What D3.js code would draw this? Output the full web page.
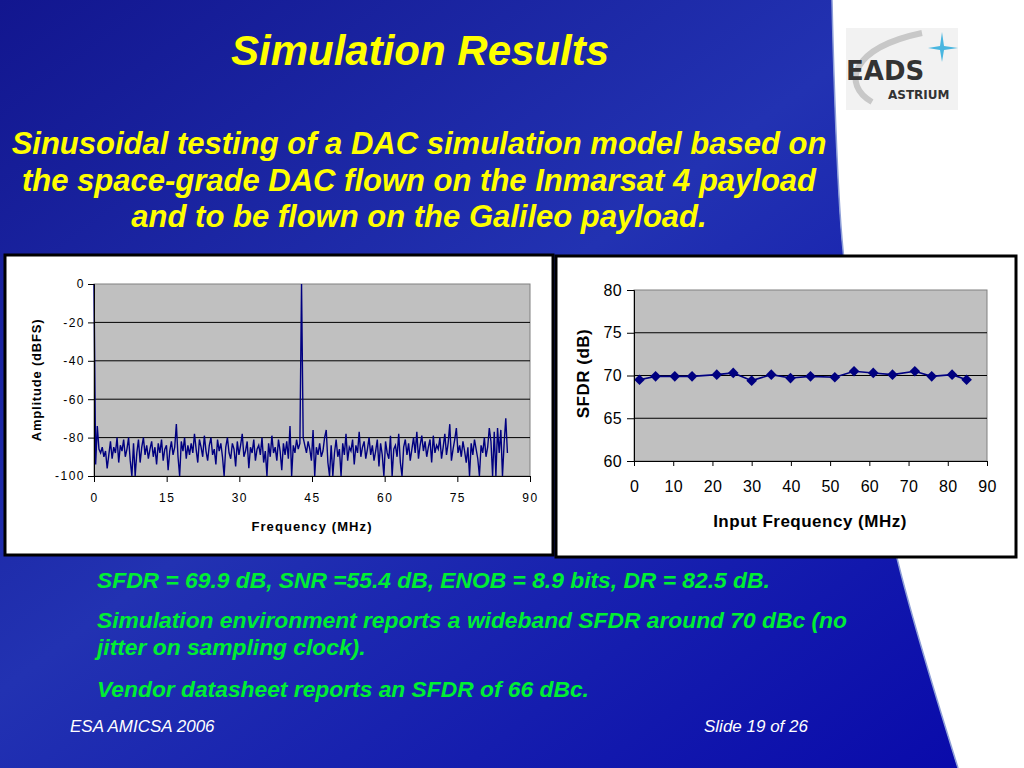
<!DOCTYPE html>
<html>
<head>
<meta charset="utf-8">
<script src="https://cdn.jsdelivr.net/npm/d3@7"></script>
<style>
  html, body { margin: 0; padding: 0; background: #fff; }
  svg { display: block; font-family: "Liberation Sans", Arial, sans-serif; }
</style>
</head>
<body>
<script>
const width = 1024
const height = 768

// spectrum of the DAC output, one value per FFT bin (dBFS)
const binWidth = 0.34
const amplitude = [
  0, -94, -74, -86, -88, -85, -90, -87, -96, -89,
  -82, -91, -85, -88, -80, -93, -84, -87, -81, -90,
  -86, -80, -92, -100, -83, -100, -88, -81, -93, -85,
  -80, -89, -84, -91, -86, -82, -90, -85, -94, -83,
  -88, -81, -92, -86, -84, -97, -87, -82, -89, -85,
  -73, -90, -100, -82, -87, -80, -91, -84, -89, -83,
  -88, -78, -86, -93, -81, -85, -90, -79, -87, -92,
  -84, -80, -89, -86, -94, -81, -87, -83, -90, -100,
  -85, -80, -88, -91, -83, -86, -95, -82, -89, -84,
  -78, -90, -87, -82, -96, -85, -88, -81, -92, -86,
  -84, -89, -80, -93, -87, -100, -83, -90, -79, -88,
  -85, -92, -81, -87, -97, -83, -89, -82, -91, -74,
  -100, -84, -88, -81, -86, -83, 0, -80, -84, -88,
  -82, -86, -92, -76, -100, -85, -89, -83, -90, -87,
  -80, -76, -93, -100, -84, -100, -88, -81, -90, -86,
  -100, -83, -89, -78, -92, -85, -87, -81, -94, -84,
  -88, -77, -90, -85, -82, -91, -86, -80, -89, -84,
  -92, -87, -81, -95, -83, -89, -100, -82, -88, -91,
  -79, -100, -86, -84, -90, -78, -93, -100, -85, -81,
  -89, -83, -92, -86, -80, -88, -77, -91, -84, -79,
  -87, -82, -90, -85, -81, -93, -79, -88, -84, -86,
  -80, -91, -85, -78, -89, -83, -73, -92, -86, -81,
  -75, -88, -84, -90, -82, -87, -93, -85, -100, -83,
  -89, -81, -86, -91, -100, -84, -88, -80, -90, -85,
  -75, -82, -100, -77, -100, -75, -88, -76, -100, -83,
  -70, -88
]

// measured SFDR against input frequency
const inputFreq = [1.4, 5.5, 10.4, 14.8, 21.1, 25.3, 30.0, 35.0, 39.9, 45.0, 51.2, 56.1, 61.0, 65.9, 71.6, 75.9, 81.1, 84.8]
const sfdr = [69.5, 69.9, 69.9, 69.9, 70.1, 70.3, 69.4, 70.1, 69.7, 69.9, 69.8, 70.5, 70.3, 70.1, 70.5, 69.9, 70.1, 69.5]

const freqTicks = [0, 15, 30, 45, 60, 75, 90]
const ampTicks = [0, -20, -40, -60, -80, -100]
const inputTicks = [0, 10, 20, 30, 40, 50, 60, 70, 80, 90]
const sfdrTicks = [60, 65, 70, 75, 80]

const subtitle = [
  'Sinusoidal testing of a DAC simulation model based on',
  'the space-grade DAC flown on the Inmarsat 4 payload',
  'and to be flown on the Galileo payload.'
]
const notes = [
  ['SFDR = 69.9 dB, SNR =55.4 dB, ENOB = 8.9 bits, DR = 82.5 dB.'],
  ['Simulation environment reports a wideband SFDR around 70 dBc (no', 'jitter on sampling clock).'],
  ['Vendor datasheet reports an SFDR of 66 dBc.']
]

const svg = d3.select('body').append('svg')
  .attr('width', width)
  .attr('height', height)

// slide background
const defs = svg.append('defs')
const grad = defs.append('linearGradient').attr('id', 'bg')
  .attr('x1', '0').attr('y1', '0').attr('x2', '1').attr('y2', '1')
grad.append('stop').attr('offset', '0%').attr('stop-color', '#12168f')
grad.append('stop').attr('offset', '45%').attr('stop-color', '#2232b2')
grad.append('stop').attr('offset', '100%').attr('stop-color', '#0808aa')

svg.append('rect').attr('width', width).attr('height', height).attr('fill', 'url(#bg)')

// white wedge on the right
const edge = [[832, 0], [843, 250], [868, 410], [897, 558], [958, 768]]
const wedge = d3.line().curve(d3.curveCatmullRom)
svg.append('path')
  .attr('d', wedge(edge) + 'L1024,768L1024,0Z')
  .attr('fill', '#fff')
svg.append('path')
  .attr('d', wedge(edge))
  .attr('fill', 'none')
  .attr('stroke', '#8fa0d8')
  .attr('stroke-width', 1.5)

// logo
const logo = svg.append('g')
logo.append('rect').attr('x', 846).attr('y', 28).attr('width', 112).attr('height', 82).attr('fill', '#f2f2f2')
logo.append('path')
  .attr('d', 'M872,102 C842,85 850,48 922,33')
  .attr('fill', 'none').attr('stroke', '#c8c8c8').attr('stroke-width', 6)
logo.append('text').attr('x', 846).attr('y', 80)
  .attr('font-size', 26).attr('font-weight', 'bold').attr('fill', '#333')
  .attr('font-family', '"DejaVu Sans", sans-serif').text('EADS')
logo.append('text').attr('x', 888).attr('y', 99)
  .attr('font-size', 12).attr('font-weight', 'bold').attr('fill', '#333')
  .attr('font-family', '"DejaVu Sans", sans-serif').text('ASTRIUM')
logo.append('path')
  .attr('d', 'M942,32 L944,46 L958,48 L944,50 L942,62 L940,50 L928,48 L940,46 Z')
  .attr('fill', '#49b6e0')

// titles
svg.append('text').attr('x', 420).attr('y', 65).attr('text-anchor', 'middle')
  .attr('font-size', 42).attr('font-weight', 'bold').attr('font-style', 'italic')
  .attr('fill', '#ffff00').text('Simulation Results')

svg.append('g').selectAll('text').data(subtitle).join('text')
  .attr('x', 419).attr('y', (d, i) => 154 + i * 36.5)
  .attr('text-anchor', 'middle')
  .attr('font-size', 31).attr('font-weight', 'bold').attr('font-style', 'italic')
  .attr('fill', '#ffff00').text(d => d)

// panels
svg.append('rect').attr('x', 5).attr('y', 255).attr('width', 548).attr('height', 300)
  .attr('fill', '#fff').attr('stroke', '#000').attr('stroke-width', 3)
svg.append('rect').attr('x', 556).attr('y', 256).attr('width', 460).attr('height', 301)
  .attr('fill', '#fff').attr('stroke', '#000').attr('stroke-width', 3)

const tickFont = (size, spacing) => g => g.selectAll('text')
  .attr('font-size', size).attr('fill', '#000')
  .attr('letter-spacing', spacing)
  .attr('font-family', '"Liberation Sans", Arial, sans-serif')

// ---- left chart: output spectrum
const ax = { left: 94, right: 530, top: 284, bottom: 476 }
const xFreq = d3.scaleLinear().domain([0, 90]).range([ax.left, ax.right])
const yAmp = d3.scaleLinear().domain([-100, 0]).range([ax.bottom, ax.top])

const left = svg.append('g')
left.append('rect').attr('x', ax.left).attr('y', ax.top)
  .attr('width', ax.right - ax.left).attr('height', ax.bottom - ax.top)
  .attr('fill', '#c0c0c0').attr('stroke', '#808080')

left.append('g').selectAll('line').data(ampTicks.filter(d => d > -100 && d < 0)).join('line')
  .attr('x1', ax.left).attr('x2', ax.right)
  .attr('y1', d => yAmp(d)).attr('y2', d => yAmp(d))
  .attr('stroke', '#000').attr('stroke-width', 1)

const line = d3.line()
  .x((d, i) => xFreq(i * binWidth))
  .y(d => yAmp(d))

left.append('path').datum(amplitude)
  .attr('d', line)
  .attr('fill', 'none').attr('stroke', '#000080').attr('stroke-width', 1.4)

left.append('g')
  .attr('transform', `translate(0,${ax.bottom})`)
  .call(d3.axisBottom(xFreq).tickValues(freqTicks).tickFormat(d => String(d)).tickSize(6).tickPadding(11))
  .call(tickFont(12, 1.5))

left.append('g')
  .attr('transform', `translate(${ax.left},0)`)
  .call(d3.axisLeft(yAmp).tickValues(ampTicks).tickFormat(d => String(d)).tickSize(6).tickPadding(3))
  .call(tickFont(12, 1.5))

left.selectAll('.domain').attr('stroke', '#000')

left.append('text').attr('x', (ax.left + ax.right) / 2).attr('y', 531)
  .attr('text-anchor', 'middle').attr('font-size', 13).attr('font-weight', 'bold')
  .attr('letter-spacing', 1.1)
  .text('Frequency (MHz)')
left.append('text')
  .attr('transform', `translate(41,${(ax.top + ax.bottom) / 2}) rotate(-90)`)
  .attr('text-anchor', 'middle').attr('font-size', 13).attr('font-weight', 'bold')
  .attr('letter-spacing', 0.8)
  .text('Amplitude (dBFS)')

// ---- right chart: SFDR vs input frequency
const bx = { left: 634, right: 987, top: 290, bottom: 461 }
const xIn = d3.scaleLinear().domain([0, 90]).range([bx.left, bx.right])
const ySfdr = d3.scaleLinear().domain([60, 80]).range([bx.bottom, bx.top])

const right = svg.append('g')
right.append('rect').attr('x', bx.left).attr('y', bx.top)
  .attr('width', bx.right - bx.left).attr('height', bx.bottom - bx.top)
  .attr('fill', '#c0c0c0').attr('stroke', '#808080')

right.append('g').selectAll('line').data(sfdrTicks.filter(d => d > 60 && d < 80)).join('line')
  .attr('x1', bx.left).attr('x2', bx.right)
  .attr('y1', d => ySfdr(d)).attr('y2', d => ySfdr(d))
  .attr('stroke', '#000').attr('stroke-width', 1)

const sfdrPts = inputFreq.map((f, i) => [f, sfdr[i]])
right.append('path').datum(sfdrPts)
  .attr('d', d3.line().x(d => xIn(d[0])).y(d => ySfdr(d[1])))
  .attr('fill', 'none').attr('stroke', '#000080').attr('stroke-width', 1.6)

right.append('g').selectAll('path').data(sfdrPts).join('path')
  .attr('d', d3.symbol(d3.symbolDiamond2, 72))
  .attr('transform', d => `translate(${xIn(d[0])},${ySfdr(d[1])})`)
  .attr('fill', '#000080')

right.append('g')
  .attr('transform', `translate(0,${bx.bottom})`)
  .call(d3.axisBottom(xIn).tickValues(inputTicks).tickSize(5).tickPadding(15))
  .call(tickFont(16, 0.3))

right.append('g')
  .attr('transform', `translate(${bx.left},0)`)
  .call(d3.axisLeft(ySfdr).tickValues(sfdrTicks).tickSize(7).tickPadding(5))
  .call(tickFont(16, 0.3))

right.selectAll('.domain').attr('stroke', '#000')

right.append('text').attr('x', 810).attr('y', 527)
  .attr('text-anchor', 'middle').attr('font-size', 17).attr('font-weight', 'bold')
  .attr('letter-spacing', 0.5)
  .text('Input Frequency (MHz)')
right.append('text')
  .attr('transform', `translate(589,${(bx.top + bx.bottom) / 2 - 2}) rotate(-90)`)
  .attr('text-anchor', 'middle').attr('font-size', 17).attr('font-weight', 'bold')
  .attr('letter-spacing', 0.5)
  .text('SFDR (dB)')

// ---- notes and footer
const noteY = [588, 628, 697]
notes.forEach((lines, k) => {
  svg.append('g').selectAll('text').data(lines).join('text')
    .attr('x', 97).attr('y', (d, i) => noteY[k] + i * 27)
    .attr('font-size', 22.8).attr('font-weight', 'bold').attr('font-style', 'italic')
    .attr('fill', '#00ee33').text(d => d)
})

svg.append('text').attr('x', 70).attr('y', 732)
  .attr('font-size', 17).attr('font-style', 'italic').attr('fill', '#fff').text('ESA AMICSA 2006')
svg.append('text').attr('x', 704).attr('y', 732)
  .attr('font-size', 17).attr('font-style', 'italic').attr('fill', '#fff').text('Slide 19 of 26')
</script>
</body>
</html>
